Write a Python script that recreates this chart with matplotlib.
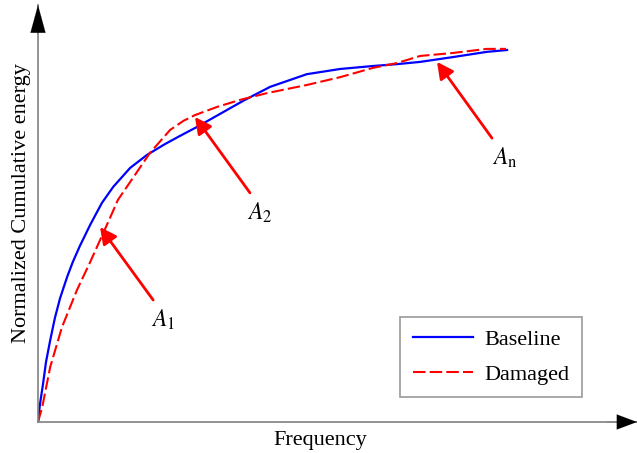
import matplotlib.pyplot as plt
import numpy as np

# Normalised curves (x: frequency, y: cumulative energy)
base_x = [0, 0.004, 0.011, 0.017, 0.026, 0.036, 0.047, 0.062, 0.074, 0.089, 0.111,
          0.136, 0.160, 0.196, 0.232, 0.270, 0.302, 0.338, 0.387, 0.436, 0.494,
          0.572, 0.643, 0.713, 0.764, 0.813, 0.883, 0.955, 0.998]
base_y = [0, 0.046, 0.105, 0.161, 0.220, 0.280, 0.333, 0.390, 0.430, 0.473, 0.530,
          0.589, 0.632, 0.683, 0.718, 0.747, 0.769, 0.793, 0.828, 0.863, 0.901,
          0.935, 0.949, 0.957, 0.962, 0.968, 0.981, 0.995, 1.0]

dam_x = [0, 0.009, 0.026, 0.051, 0.083, 0.111, 0.132, 0.153, 0.170, 0.196, 0.238,
         0.281, 0.310, 0.334, 0.381, 0.430, 0.487, 0.572, 0.643, 0.713, 0.764, 0.813,
         0.883, 0.955, 0.996]
dam_y = [0, 0.040, 0.148, 0.255, 0.355, 0.430, 0.489, 0.548, 0.597, 0.645, 0.723,
         0.785, 0.810, 0.825, 0.847, 0.866, 0.884, 0.906, 0.927, 0.952, 0.965, 0.984,
         0.992, 1.003, 1.003]

# annotation arrows: label, tail, head, label position
labels = [r'$A_1$', r'$A_2$', r'$A_\mathrm{n}$']
tails = [(0.245, 0.328), (0.451, 0.616), (0.966, 0.763)]
heads = [(0.132, 0.524), (0.334, 0.820), (0.849, 0.968)]
label_pos = [(0.266, 0.274), (0.472, 0.562), (0.994, 0.710)]

plt.rcParams['font.family'] = ['Liberation Serif', 'DejaVu Serif']
plt.rcParams['mathtext.fontset'] = 'stix'

fig = plt.figure(figsize=(6.37, 4.53), dpi=100)
ax = fig.add_axes([38/637, 31/453, (637-38)/637, (422-5)/453])
ax.set_xlim(0, (637-38)/470)
ax.set_ylim(0, (422-5)/372)

ax.plot(base_x, base_y, color='#0000ff', lw=1.6, label='Baseline',
        solid_joinstyle='round')
ax.plot(dam_x, dam_y, color='#ff0000', lw=1.5, dashes=(6, 2), label='Damaged')

for lab, t, h, p in zip(labels, tails, heads, label_pos):
    ax.annotate('', xy=h, xytext=t,
                arrowprops=dict(arrowstyle='-|>,head_length=0.55,head_width=0.28',
                                color='#ff0000', lw=2, mutation_scale=18,
                                shrinkA=0, shrinkB=0))
    ax.text(p[0], p[1], lab, fontsize=17, ha='center', va='center')

# axes with arrow heads
for s in ['top', 'right']:
    ax.spines[s].set_visible(False)
for s in ['left', 'bottom']:
    ax.spines[s].set_color('#808080')
    ax.spines[s].set_linewidth(1.2)
ax.set_xticks([])
ax.set_yticks([])
ax.annotate('', xy=(0, 1), xytext=(0, 0.93), xycoords='axes fraction',
            arrowprops=dict(arrowstyle='-|>,head_length=1.1,head_width=0.3',
                            color='black', lw=0.1, mutation_scale=18,
                            shrinkA=0, shrinkB=0))
ax.annotate('', xy=(1, 0), xytext=(0.95, 0), xycoords='axes fraction',
            arrowprops=dict(arrowstyle='-|>,head_length=0.8,head_width=0.3',
                            color='black', lw=0.1, mutation_scale=18,
                            shrinkA=0, shrinkB=0))

fig.text(320/637, 1 - 440/453, 'Frequency', fontsize=16, ha='center', va='center')
fig.text(22/637, 1 - 203/453, 'Normalized Cumulative energy', fontsize=16,
         ha='center', va='center', rotation=90)

leg = ax.legend(loc='lower right', bbox_to_anchor=(582/637, 1 - 397/453),
                bbox_transform=fig.transFigure, borderaxespad=0, fontsize=16,
                handlelength=2.7, handletextpad=0.55, labelspacing=0.65,
                borderpad=0.55, fancybox=False, edgecolor='#808080')
leg.get_frame().set_linewidth(1.2)

fig.savefig('out.png', dpi=100)
